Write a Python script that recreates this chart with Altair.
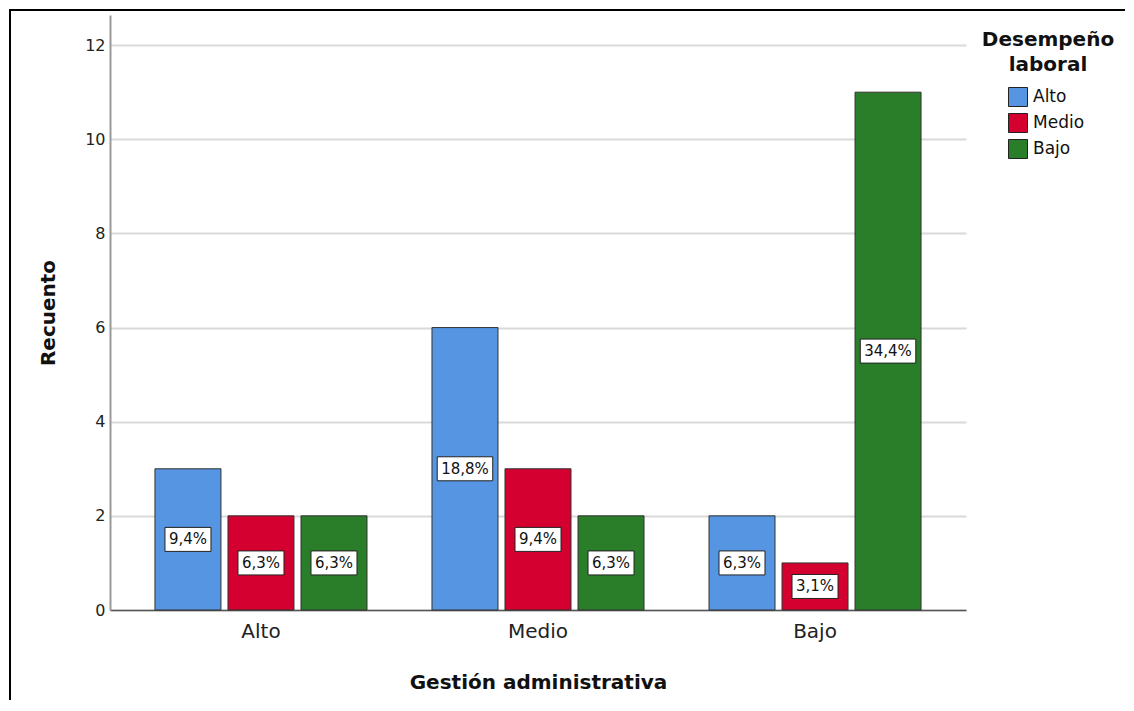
import altair as alt
import pandas as pd

# Categories
gestion = ["Alto", "Medio", "Bajo"]          # Gestión administrativa (x groups)
desempeno = ["Alto", "Medio", "Bajo"]        # Desempeño laboral (series)

# Counts per Gestión group, in desempeño order Alto, Medio, Bajo
counts_alto = [3, 2, 2]
counts_medio = [6, 3, 2]
counts_bajo = [2, 1, 11]

# Percentage labels shown inside the bars
pct_alto = ["9,4%", "6,3%", "6,3%"]
pct_medio = ["18,8%", "9,4%", "6,3%"]
pct_bajo = ["6,3%", "3,1%", "34,4%"]

colors = ["#5595e1", "#d4002f", "#2a7e2a"]

rows = []
for g, cnts, pcts in zip(gestion, [counts_alto, counts_medio, counts_bajo],
                         [pct_alto, pct_medio, pct_bajo]):
    for d, c, p in zip(desempeno, cnts, pcts):
        rows.append({"gestion": g, "desempeno": d, "value": c, "label": p})
df = pd.DataFrame(rows)

FONT = "DejaVu Sans"

x_enc = alt.X(
    "gestion:N", sort=gestion,
    scale=alt.Scale(paddingInner=0, paddingOuter=0.045),
    axis=alt.Axis(
        title="Gestión administrativa", labelAngle=0, ticks=False,
        labelFont=FONT, labelFontSize=20, labelColor="#222", labelPadding=11,
        domainColor="#555", domainWidth=1.5,
        titleFont=FONT, titleFontSize=20, titleFontWeight="bold",
        titleColor="#111", titlePadding=31,
    ),
)
xoff_enc = alt.XOffset(
    "desempeno:N", sort=desempeno,
    scale=alt.Scale(paddingInner=0.096, paddingOuter=0.445),
)
y_axis = alt.Axis(
    title="Recuento", values=[0, 2, 4, 6, 8, 10, 12], ticks=False,
    labelFont=FONT, labelFontSize=16, labelColor="#222", labelPadding=5,
    domainColor="#999", domainWidth=2,
    grid=True, gridColor="#d9d9d9", gridWidth=2,
    titleFont=FONT, titleFontSize=20, titleFontWeight="bold",
    titleColor="#111", titlePadding=26,
)
y_scale = alt.Scale(domain=[0, 12.64], nice=False, zero=True)

base = alt.Chart(df)

bars = base.mark_bar(stroke="#333", strokeWidth=1).encode(
    x=x_enc,
    xOffset=xoff_enc,
    y=alt.Y("value:Q", scale=y_scale, axis=y_axis),
    color=alt.Color(
        "desempeno:N", sort=desempeno,
        scale=alt.Scale(domain=desempeno, range=colors),
        legend=alt.Legend(
            title=None, orient="none", legendX=898, legendY=72,
            symbolType="square", symbolSize=361, symbolStrokeColor="#222",
            symbolStrokeWidth=1, symbolOpacity=1,
            labelFont=FONT, labelFontSize=17, labelColor="#111",
            labelOffset=5, rowPadding=2, padding=0,
        ),
    ),
)

boxes = base.transform_calculate(
    mid="datum.value / 2",
    w="9.5 * length(datum.label) + 8",
).mark_tick(
    orient="horizontal", thickness=24, filled=True, fill="white",
    stroke="#222", strokeWidth=1, opacity=1,
).encode(
    x=x_enc,
    xOffset=xoff_enc,
    y=alt.Y("mid:Q", scale=y_scale, axis=y_axis),
    size=alt.Size("w:Q", scale=None, legend=None),
)

texts = base.transform_calculate(
    mid="datum.value / 2",
).mark_text(font=FONT, fontSize=15, color="#111", baseline="middle").encode(
    x=x_enc,
    xOffset=xoff_enc,
    y=alt.Y("mid:Q", scale=y_scale, axis=y_axis),
    text="label:N",
)

one = alt.Data(values=[{}])
leg_title1 = alt.Chart(one).mark_text(
    font=FONT, fontSize=20, fontWeight="bold", color="#111", align="center",
    baseline="alphabetic",
).encode(x=alt.value(938), y=alt.value(31), text=alt.value("Desempeño"))
leg_title2 = alt.Chart(one).mark_text(
    font=FONT, fontSize=20, fontWeight="bold", color="#111", align="center",
    baseline="alphabetic",
).encode(x=alt.value(938), y=alt.value(56), text=alt.value("laboral"))

frame_left = alt.Chart(one).mark_rule(color="black", strokeWidth=2).encode(
    x=alt.value(-100), y=alt.value(-6), y2=alt.value(685))
frame_top = alt.Chart(one).mark_rule(color="black", strokeWidth=2).encode(
    x=alt.value(-101), x2=alt.value(1015), y=alt.value(-5))

chart = alt.layer(
    bars, boxes, texts, leg_title1, leg_title2, frame_left, frame_top
).properties(
    width=856, height=595,
    padding={"left": 102, "top": 7, "right": 159, "bottom": 92},
    autosize=alt.AutoSizeParams(type="none"),
    background="white",
).configure_view(stroke=None)

chart.save("out.html", embed_options={"renderer": "svg", "actions": False})
